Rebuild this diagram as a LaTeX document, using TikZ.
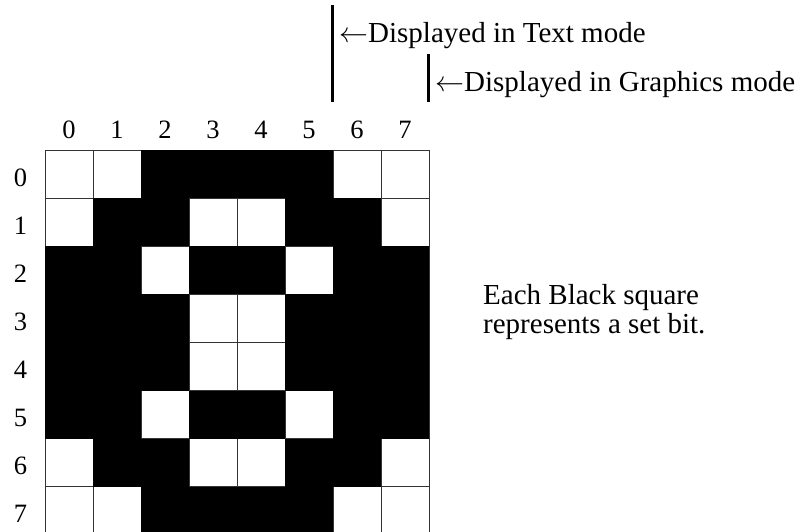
\documentclass[tikz,border=0pt]{standalone}
\usepackage{fontspec}
\usepackage{unicode-math}
\setmainfont{Liberation Serif}
\usepackage{tikz}
\usetikzlibrary{positioning}

\begin{document}
\begin{tikzpicture}[
  x=1pt, y=-1pt,
  lbl/.style={font=\fontsize{26.5}{29}\selectfont, inner sep=0pt, anchor=base},
  txt/.style={lbl, font=\fontsize{29}{29}\selectfont, anchor=base west, align=left},
  cellw/.style={draw=black!80, line width=0.9pt, fill=white},
  cellb/.style={fill=black},
  bar/.style={line width=3pt},
]
\useasboundingbox (0,0) rectangle (803,531);
\clip (0,0) rectangle (803,531);
% bit pattern, row by row
\foreach \r/\bits in {0/{0,0,1,1,1,1,0,0}, 1/{0,1,1,0,0,1,1,0}, 2/{1,1,0,1,1,0,1,1},
  3/{1,1,1,0,0,1,1,1}, 4/{1,1,1,0,0,1,1,1}, 5/{1,1,0,1,1,0,1,1},
  6/{0,1,1,0,0,1,1,0}, 7/{0,0,1,1,1,1,0,0}} {
  \foreach \b [count=\c from 0] in \bits {
    \draw[cellw] (45+48*\c,150+48.1*\r) rectangle ++(48,48.1);
  }
}
\foreach \r/\bits in {0/{0,0,1,1,1,1,0,0}, 1/{0,1,1,0,0,1,1,0}, 2/{1,1,0,1,1,0,1,1},
  3/{1,1,1,0,0,1,1,1}, 4/{1,1,1,0,0,1,1,1}, 5/{1,1,0,1,1,0,1,1},
  6/{0,1,1,0,0,1,1,0}, 7/{0,0,1,1,1,1,0,0}} {
  \foreach \b [count=\c from 0] in \bits {
    \ifnum\b=1 \fill[cellb] (45+48*\c,150+48.1*\r) rectangle ++(48,48.1); \fi
  }
}
% column and row numbers
\foreach \i in {0,...,7} {
  \node[lbl] (col\i) at (69+48*\i,138) {\i};
  \node[lbl] (row\i) at (20.5,186+48*\i) {\i};
}
% display mode markers
\coordinate (tbtop) at (332,5);
\coordinate (tbbot) at (332,102);
\coordinate (gbtop) at (428,54);
\coordinate (gbbot) at (428,102);
\draw[bar] (tbtop) -- (tbbot);
\draw[bar] (gbtop) -- (gbbot);
\node[txt] (textmode) at (339,42) {$\leftarrow$Displayed in Text mode};
\node[txt] (gfxmode) at (435,91) {$\leftarrow$Displayed in Graphics mode};
% legend
\node[txt] (legend) at (483,333) {Each Black square\\represents a set bit.};
\end{tikzpicture}
\end{document}
